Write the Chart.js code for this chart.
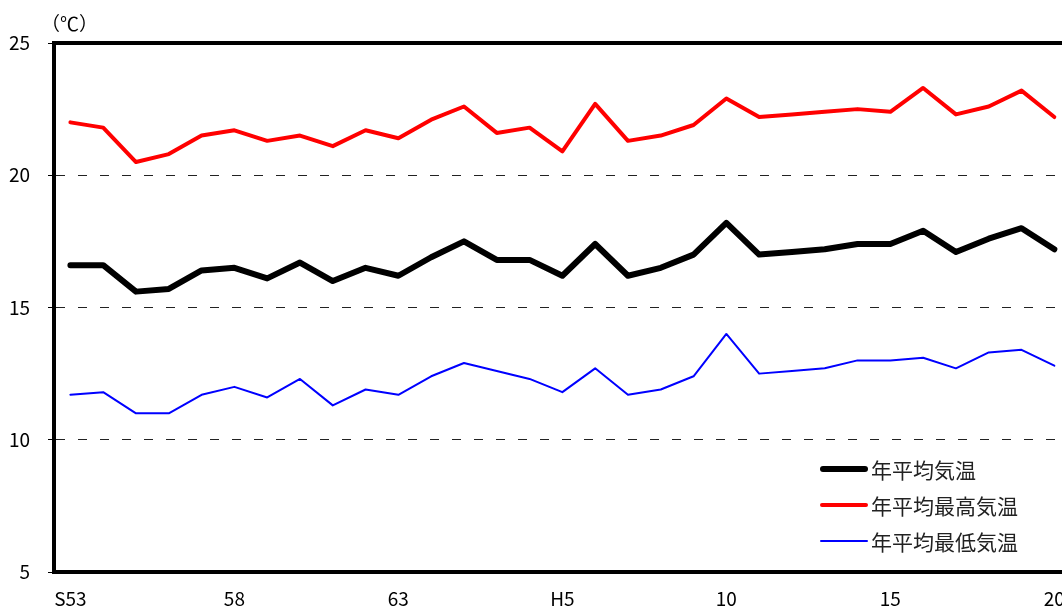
<!DOCTYPE html>
<html>
<head>
<meta charset="utf-8">
<script src="https://cdn.jsdelivr.net/npm/chart.js@4"></script>
<style>
  html, body { margin: 0; padding: 0; overflow: hidden; background: #fff; }
  #wrap { position: absolute; left: 0; top: 0; width: 1080px; height: 608px; }
  #unit { position: absolute; left: 41px; top: 9px; font: 19px 'Noto Sans CJK JP', sans-serif; color: #000; }
  #legend { position: absolute; left: 820px; top: 451px; font: 21px 'Noto Sans CJK JP', sans-serif; color: #222; }
  #legend .row { display: flex; align-items: center; height: 36px; }
  #legend .swatch { width: 48px; margin-right: 3px; }
</style>
</head>
<body>
<div id="wrap"><canvas id="grafico"></canvas></div>
<div id="unit">（℃）</div>
<div id="legend"></div>
<script>
// S53(1978) 〜 H20(2008)
const anos = ['S53', 'S54', 'S55', 'S56', 'S57', 'S58', 'S59', 'S60', 'S61', 'S62', 'S63',
  'H1', 'H2', 'H3', 'H4', 'H5', 'H6', 'H7', 'H8', 'H9', 'H10',
  'H11', 'H12', 'H13', 'H14', 'H15', 'H16', 'H17', 'H18', 'H19', 'H20'];
const rotulosEixo = ['S53', '58', '63', 'H5', '10', '15', '20'];

const mediaAnual = [16.6, 16.6, 15.6, 15.7, 16.4, 16.5, 16.1, 16.7, 16.0, 16.5, 16.2,
  16.9, 17.5, 16.8, 16.8, 16.2, 17.4, 16.2, 16.5, 17.0, 18.2,
  17.0, 17.1, 17.2, 17.4, 17.4, 17.9, 17.1, 17.6, 18.0, 17.2];
const maximaAnual = [22.0, 21.8, 20.5, 20.8, 21.5, 21.7, 21.3, 21.5, 21.1, 21.7, 21.4,
  22.1, 22.6, 21.6, 21.8, 20.9, 22.7, 21.3, 21.5, 21.9, 22.9,
  22.2, 22.3, 22.4, 22.5, 22.4, 23.3, 22.3, 22.6, 23.2, 22.2];
const minimaAnual = [11.7, 11.8, 11.0, 11.0, 11.7, 12.0, 11.6, 12.3, 11.3, 11.9, 11.7,
  12.4, 12.9, 12.6, 12.3, 11.8, 12.7, 11.7, 11.9, 12.4, 14.0,
  12.5, 12.6, 12.7, 13.0, 13.0, 13.1, 12.7, 13.3, 13.4, 12.8];

const fonte = "'Noto Sans CJK JP', sans-serif";

// moldura superior e direita
const moldura = {
  id: 'moldura',
  beforeDatasetsDraw(chart) {
    const { ctx, chartArea: a } = chart;
    ctx.save();
    ctx.strokeStyle = '#000';
    ctx.lineWidth = 4;
    ctx.beginPath();
    ctx.moveTo(a.left, a.top);
    ctx.lineTo(a.right, a.top);
    ctx.lineTo(a.right, a.bottom);
    ctx.stroke();
    ctx.restore();
  }
};

const grafico = new Chart(document.getElementById('grafico'), {
  type: 'line',
  data: {
    labels: anos,
    datasets: [
      { label: '年平均気温', data: mediaAnual, borderColor: '#000', borderWidth: 6 },
      { label: '年平均最高気温', data: maximaAnual, borderColor: '#ff0000', borderWidth: 4 },
      { label: '年平均最低気温', data: minimaAnual, borderColor: '#0000ff', borderWidth: 2 }
    ]
  },
  options: {
    responsive: true,
    maintainAspectRatio: false,
    animation: false,
    devicePixelRatio: 1,
    layout: { padding: { left: 0, top: 43, right: 8, bottom: 0 } },
    elements: {
      point: { radius: 0 },
      line: { tension: 0, borderCapStyle: 'round', borderJoinStyle: 'round', fill: false }
    },
    plugins: {
      legend: { display: false },
      tooltip: { enabled: false }
    },
    scales: {
      x: {
        type: 'category',
        offset: true,
        grid: { display: false, drawTicks: false },
        border: { display: true, color: '#000', width: 4 },
        ticks: {
          autoSkip: false,
          maxRotation: 0,
          padding: 15,
          color: '#000',
          font: { family: fonte, size: 19 },
          callback: (v, i) => (i % 5 === 0 ? rotulosEixo[i / 5] : '')
        },
        afterFit: s => { s.height = 36; }
      },
      y: {
        min: 5,
        max: 25,
        grid: {
          color: c => ([10, 15, 20].includes(c.tick && c.tick.value) ? '#222' : 'rgba(0,0,0,0)'),
          lineWidth: 1,
          tickLength: 6,
          tickColor: '#000'
        },
        border: { display: true, color: '#000', width: 4, dash: [9, 13] },
        ticks: {
          stepSize: 5,
          padding: 18,
          color: '#000',
          font: { family: fonte, size: 19 }
        },
        afterFit: s => { s.width = 54; }
      }
    }
  },
  plugins: [moldura]
});

// legenda em HTML a partir dos datasets
const legenda = document.getElementById('legend');
grafico.data.datasets.forEach(ds => {
  const linha = document.createElement('div');
  linha.className = 'row';
  const amostra = document.createElement('div');
  amostra.className = 'swatch';
  amostra.style.height = ds.borderWidth + 'px';
  amostra.style.background = ds.borderColor;
  amostra.style.borderRadius = (ds.borderWidth / 2) + 'px';
  const texto = document.createElement('span');
  texto.textContent = ds.label;
  linha.appendChild(amostra);
  linha.appendChild(texto);
  legenda.appendChild(linha);
});
</script>
</body>
</html>
